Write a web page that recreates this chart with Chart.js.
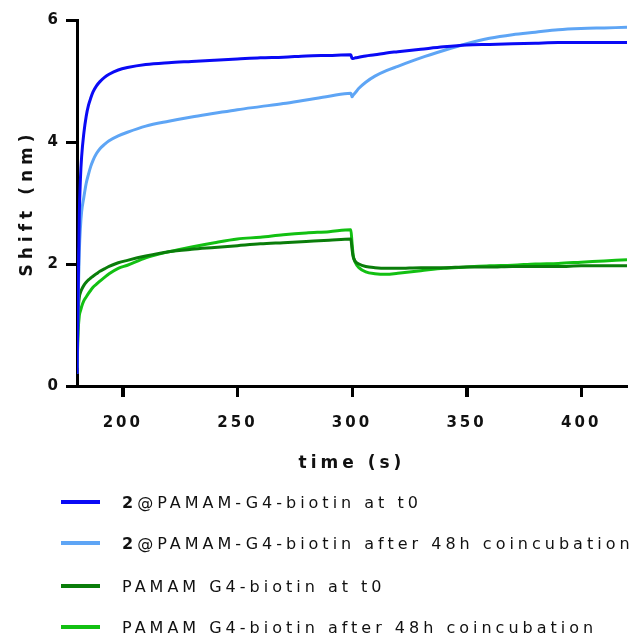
<!DOCTYPE html>
<html>
<head>
<meta charset="utf-8">
<script src="https://cdn.jsdelivr.net/npm/chart.js@4/dist/chart.umd.min.js"></script>
<style>
  html, body { margin: 0; padding: 0; background: #fff; }
  #wrap { position: relative; width: 631px; height: 639px; }
  #legend { position: absolute; left: 0; top: 0; width: 631px; height: 639px; pointer-events: none; }
  .row { position: absolute; left: 61px; height: 20px; display: flex; align-items: center; white-space: nowrap; }
  .sw { width: 39px; height: 4px; margin-right: 22px; }
  .txt { font-family: "DejaVu Sans", sans-serif; font-size: 16px; letter-spacing: 4px; color: #111; }
  .txt b { font-weight: bold; }
</style>
</head>
<body>
<div id="wrap">
  <canvas id="c" width="631" height="639"></canvas>
  <div id="legend"></div>
</div>
<script>
// ---- data ----
const times = [180, 180.5, 181, 181.5, 182, 183, 184, 185, 186, 187, 188.5, 190, 192, 194, 198, 202, 210, 220, 230, 240, 250, 260, 270, 280, 290, 299.5, 300, 300.5, 301.5, 303, 306, 310, 315, 320, 330, 340, 350, 360, 370, 380, 390, 400, 410, 420];

const darkBlue = [0.2, 1.5, 2.8, 3.4, 3.75, 4.15, 4.42, 4.6, 4.72, 4.82, 4.92, 4.99, 5.06, 5.11, 5.18, 5.22, 5.27, 5.3, 5.32, 5.34, 5.36, 5.38, 5.39, 5.41, 5.42, 5.43, 5.37, 5.37, 5.38, 5.39, 5.41, 5.43, 5.46, 5.48, 5.52, 5.56, 5.59, 5.6, 5.61, 5.62, 5.63, 5.63, 5.63, 5.63];

const lightBlue = [0.2, 1.4, 2.2, 2.6, 2.85, 3.1, 3.32, 3.47, 3.6, 3.7, 3.81, 3.89, 3.96, 4.02, 4.1, 4.16, 4.26, 4.34, 4.41, 4.47, 4.53, 4.58, 4.63, 4.69, 4.75, 4.8, 4.74, 4.77, 4.81, 4.88, 4.98, 5.08, 5.17, 5.24, 5.38, 5.5, 5.61, 5.7, 5.76, 5.8, 5.84, 5.86, 5.87, 5.88];

const darkGreen = [0.3, 1.2, 1.45, 1.53, 1.58, 1.65, 1.7, 1.74, 1.77, 1.8, 1.84, 1.88, 1.92, 1.96, 2.02, 2.06, 2.13, 2.2, 2.24, 2.27, 2.3, 2.33, 2.35, 2.37, 2.39, 2.41, 2.25, 2.12, 2.04, 2.0, 1.96, 1.94, 1.93, 1.93, 1.94, 1.94, 1.95, 1.95, 1.96, 1.96, 1.96, 1.97, 1.97, 1.97];

const lightGreen = [0.3, 0.9, 1.15, 1.23, 1.3, 1.4, 1.46, 1.52, 1.57, 1.62, 1.67, 1.72, 1.78, 1.84, 1.93, 1.98, 2.1, 2.2, 2.28, 2.35, 2.41, 2.44, 2.48, 2.51, 2.53, 2.56, 2.35, 2.15, 2.02, 1.94, 1.87, 1.84, 1.83, 1.85, 1.89, 1.93, 1.95, 1.97, 1.98, 2.0, 2.01, 2.03, 2.05, 2.07];

const seriesLabels = [
  '2@PAMAM-G4-biotin at t0',
  '2@PAMAM-G4-biotin after 48h coincubation',
  'PAMAM G4-biotin at t0',
  'PAMAM G4-biotin after 48h coincubation'
];
const seriesColors = ['#0a0af5', '#5ea5f5', '#0a7d0a', '#12c012'];
const xTicks = [200, 250, 300, 350, 400];
const yTicks = [0, 2, 4, 6];
const xTitle = 'time (s)';
const yTitle = 'Shift (nm)';
// ---------------------------------------

const seriesValues = [darkBlue, lightBlue, darkGreen, lightGreen];
const datasets = seriesValues.map((vals, i) => ({
  label: seriesLabels[i],
  data: times.map((t, j) => ({ x: t, y: vals[j] })),
  borderColor: seriesColors[i],
  backgroundColor: seriesColors[i],
  borderWidth: 3,
  pointRadius: 0,
  cubicInterpolationMode: 'monotone',
  fill: false
}));

const TICK_LEN = 11;
const titleSpacing = { x: '4px', y: '5px' };

const spacingPlugin = {
  id: 'spacing',
  beforeDraw(chart) {
    Object.values(chart.scales).forEach(s => {
      if (s._spWrapped) return;
      s._spWrapped = true;
      const dl = s.drawLabels.bind(s);
      const dt = s.drawTitle.bind(s);
      s.drawLabels = function (area) {
        const c = this.ctx; const p = c.letterSpacing;
        c.letterSpacing = '3px'; dl(area); c.letterSpacing = p;
      };
      s.drawTitle = function () {
        const c = this.ctx; const p = c.letterSpacing;
        c.letterSpacing = titleSpacing[this.id] || '4px'; dt(); c.letterSpacing = p;
      };
    });
  },
  afterDraw(chart) {
    const ctx = chart.ctx;
    const xs = chart.scales.x, ys = chart.scales.y;
    const area = chart.chartArea;
    ctx.save();
    ctx.strokeStyle = '#000';
    ctx.lineWidth = 3;
    ctx.beginPath();
    xs.ticks.forEach(t => {
      const px = Math.round(xs.getPixelForValue(t.value)) + 0.5;
      ctx.moveTo(px, area.bottom);
      ctx.lineTo(px, area.bottom + TICK_LEN);
    });
    ys.ticks.forEach(t => {
      const py = Math.round(ys.getPixelForValue(t.value)) + 0.5;
      ctx.moveTo(area.left, py);
      ctx.lineTo(area.left - TICK_LEN, py);
    });
    ctx.stroke();
    ctx.restore();
  }
};

const tickFont = { family: 'DejaVu Sans', size: 15, weight: 'bold' };
const titleFont = { family: 'DejaVu Sans', size: 17, weight: 'bold' };

new Chart(document.getElementById('c'), {
  type: 'line',
  data: { datasets },
  plugins: [spacingPlugin],
  options: {
    responsive: false,
    animation: false,
    events: [],
    layout: { padding: { top: 20, right: 4, bottom: 165, left: 0 } },
    plugins: { legend: { display: false }, tooltip: { enabled: false } },
    scales: {
      x: {
        type: 'linear',
        min: 180, max: 420,
        afterFit(scale) { scale.height = 88; },
        afterBuildTicks(scale) { scale.ticks = xTicks.map(v => ({ value: v })); },
        border: { display: true, color: '#000', width: 3 },
        grid: { display: true, drawOnChartArea: false, drawTicks: true, tickLength: TICK_LEN, tickWidth: 3, tickColor: '#000' },
        ticks: { color: '#111', font: tickFont, padding: 17, maxRotation: 0, autoSkip: false },
        title: { display: true, text: xTitle, color: '#111', font: titleFont, padding: { top: 0, bottom: 0 } }
      },
      y: {
        type: 'linear',
        min: 0, max: 6,
        afterFit(scale) { scale.width = 77; },
        afterBuildTicks(scale) { scale.ticks = yTicks.map(v => ({ value: v })); },
        border: { display: true, color: '#000', width: 3 },
        grid: { display: true, drawOnChartArea: false, drawTicks: true, tickLength: TICK_LEN, tickWidth: 3, tickColor: '#000' },
        ticks: { color: '#111', font: tickFont, padding: 5 },
        title: { display: true, text: yTitle, color: '#111', font: titleFont, padding: { top: 17, bottom: 0 } }
      }
    }
  }
});

// HTML legend built from the series arrays
const legendRowsY = [502, 543, 586, 627];
const lg = document.getElementById('legend');
seriesLabels.forEach((lab, i) => {
  const row = document.createElement('div');
  row.className = 'row';
  row.style.top = (legendRowsY[i] - 10) + 'px';
  const sw = document.createElement('div');
  sw.className = 'sw';
  sw.style.background = seriesColors[i];
  const tx = document.createElement('span');
  tx.className = 'txt';
  if (lab.startsWith('2@')) {
    const b = document.createElement('b');
    b.textContent = '2';
    tx.appendChild(b);
    tx.appendChild(document.createTextNode(lab.slice(1)));
  } else {
    tx.textContent = lab;
  }
  row.appendChild(sw);
  row.appendChild(tx);
  lg.appendChild(row);
});
</script>
</body>
</html>
